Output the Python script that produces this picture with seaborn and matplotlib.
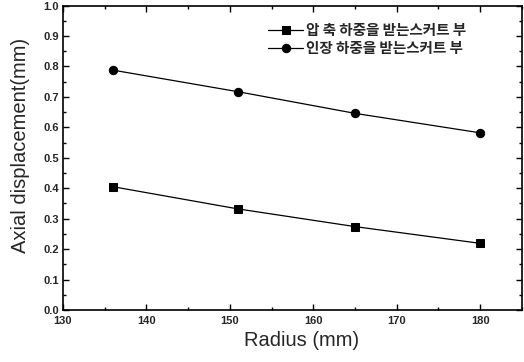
import matplotlib
matplotlib.use("Agg")
import matplotlib.pyplot as plt
import seaborn as sns
import pandas as pd

radius = [136, 151, 165, 180]
compress = [0.405, 0.332, 0.274, 0.219]
tension = [0.788, 0.717, 0.646, 0.582]
labels = ["압 축 하중을 받는스커트 부", "인장 하중을 받는스커트 부"]
xticks = [130, 140, 150, 160, 170, 180]
yticks = [0.0, 0.1, 0.2, 0.3, 0.4, 0.5, 0.6, 0.7, 0.8, 0.9, 1.0]

df = pd.DataFrame({
    "Radius": radius * 2,
    "Disp": compress + tension,
    "Series": [labels[0]] * 4 + [labels[1]] * 4,
})

sns.set_theme(style="ticks")
plt.rcParams['font.family'] = ['Liberation Sans', 'Noto Sans CJK KR', 'DejaVu Sans']

fig = plt.figure(figsize=(5.24, 3.62), dpi=100)
ax = fig.add_axes([0.120, 0.1436, 0.876, 0.841])

sns.lineplot(data=df, x="Radius", y="Disp", hue="Series", style="Series",
             palette=["black", "black"], markers=["s", "o"], dashes=False,
             markersize=6, linewidth=0.9, markeredgecolor="black", ax=ax)

ax.set_xticks(xticks)
ax.set_xticklabels([str(v) for v in xticks], fontweight="bold", fontsize=8)
ax.set_xticks([135, 145, 155, 165, 175, 185], minor=True)
ax.set_yticks(yticks)
ax.set_yticklabels([f"{v:.1f}" for v in yticks], fontweight="bold", fontsize=8)
ax.set_yticks([0.05 + 0.1 * i for i in range(10)], minor=True)
ax.set_xlim(130, 185)
ax.set_ylim(0.0, 1.0)
ax.tick_params(which="both", direction="in", top=True, right=True, width=1, color="black")
ax.tick_params(which="major", length=4)
ax.tick_params(axis="x", which="major", pad=4)
ax.tick_params(axis="y", which="major", pad=3)
ax.tick_params(which="minor", length=2)

for s in ax.spines.values():
    s.set_linewidth(1.2)
    s.set_color("black")

ax.set_xlabel("Radius (mm)", fontsize=14.5)
ax.set_ylabel("Axial displacement(mm)", fontsize=14.5)
ax.xaxis.set_label_coords(0.519, -0.07)
ax.yaxis.set_label_coords(-0.072, 0.54)

handles, lbls = ax.get_legend_handles_labels()
ax.legend(handles, lbls, loc="upper left", bbox_to_anchor=(0.447, 0.945),
          frameon=False, handlelength=2.4, handletextpad=0.2, labelspacing=0.1,
          borderpad=0, borderaxespad=0,
          prop={"family": ["Noto Sans CJK KR"], "weight": "bold", "size": 10.5})

fig.savefig("out.png", dpi=100)
